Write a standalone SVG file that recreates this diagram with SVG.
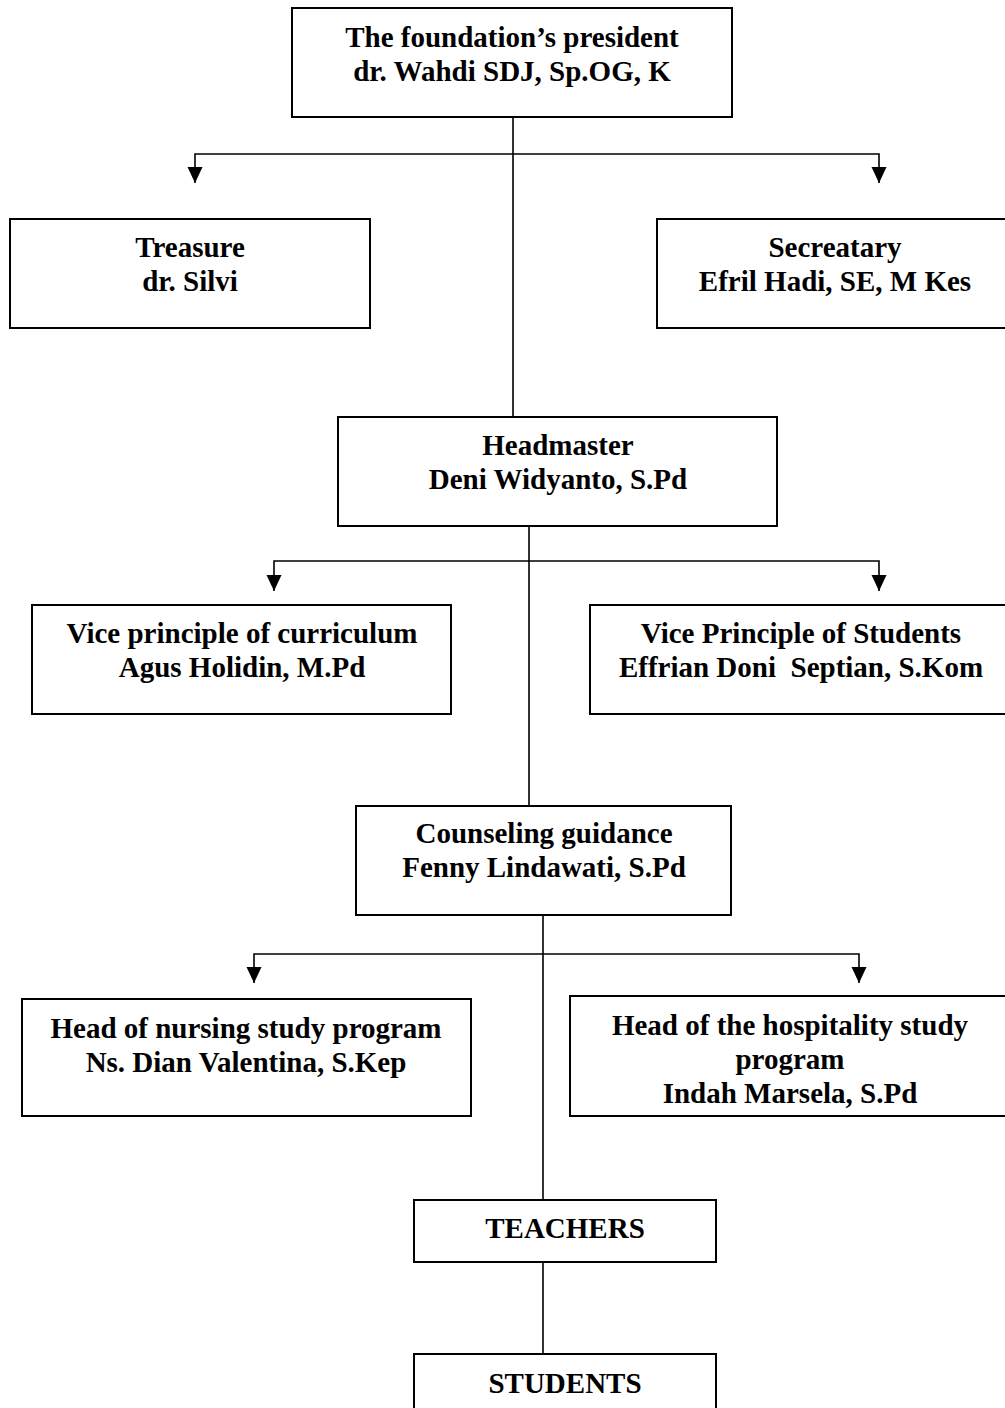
<svg xmlns="http://www.w3.org/2000/svg" width="1005" height="1408" viewBox="0 0 1005 1408">
<defs>
<style>
.box{fill:#fff;stroke:#000;stroke-width:2}
.t{font-family:"Liberation Serif","Times New Roman",serif;font-weight:bold;font-size:29px;fill:#000;text-anchor:middle}
.ln{fill:none;stroke:#000;stroke-width:1.6}
</style>
<marker id="arr" markerUnits="userSpaceOnUse" viewBox="0 0 16 16" markerWidth="16" markerHeight="16" refX="16" refY="8" orient="auto-start-reverse">
<path d="M0,0.5 L16,8 L0,15.5 Z" fill="#000"/>
</marker>
</defs>
<rect width="1005" height="1408" fill="#fff"/>
<g id="connectors">
<line class="ln" x1="513" y1="117" x2="513" y2="417"/>
<polyline class="ln" points="195,183 195,154 879,154 879,183" marker-start="url(#arr)" marker-end="url(#arr)"/>
<line class="ln" x1="529" y1="526" x2="529" y2="806"/>
<polyline class="ln" points="274,591 274,561 879,561 879,591" marker-start="url(#arr)" marker-end="url(#arr)"/>
<line class="ln" x1="543" y1="915" x2="543" y2="1200"/>
<polyline class="ln" points="254,983 254,954 859,954 859,983" marker-start="url(#arr)" marker-end="url(#arr)"/>
<line class="ln" x1="543" y1="1262" x2="543" y2="1354"/>
</g>
<g id="president">
<rect class="box" x="292" y="8" width="440" height="109"/>
<text class="t" x="512" y="47">The foundation’s president</text>
<text class="t" x="512" y="81">dr. Wahdi SDJ, Sp.OG, K</text>
</g>
<g id="treasure">
<rect class="box" x="10" y="219" width="360" height="109"/>
<text class="t" x="190" y="257">Treasure</text>
<text class="t" x="190" y="291">dr. Silvi</text>
</g>
<g id="secretary">
<rect class="box" x="657" y="219" width="360" height="109"/>
<text class="t" x="835" y="257">Secreatary</text>
<text class="t" x="835" y="291">Efril Hadi, SE, M Kes</text>
</g>
<g id="headmaster">
<rect class="box" x="338" y="417" width="439" height="109"/>
<text class="t" x="558" y="455">Headmaster</text>
<text class="t" x="558" y="489">Deni Widyanto, S.Pd</text>
</g>
<g id="vice-curriculum">
<rect class="box" x="32" y="605" width="419" height="109"/>
<text class="t" x="242" y="643">Vice principle of curriculum</text>
<text class="t" x="242" y="677">Agus Holidin, M.Pd</text>
</g>
<g id="vice-students">
<rect class="box" x="590" y="605" width="425" height="109"/>
<text class="t" x="801" y="643">Vice Principle of Students</text>
<text class="t" x="801" y="677" xml:space="preserve">Effrian Doni  Septian, S.Kom</text>
</g>
<g id="counseling">
<rect class="box" x="356" y="806" width="375" height="109"/>
<text class="t" x="544" y="843">Counseling guidance</text>
<text class="t" x="544" y="877">Fenny Lindawati, S.Pd</text>
</g>
<g id="nursing">
<rect class="box" x="22" y="999" width="449" height="117"/>
<text class="t" x="246" y="1038">Head of nursing study program</text>
<text class="t" x="246" y="1072">Ns. Dian Valentina, S.Kep</text>
</g>
<g id="hospitality">
<rect class="box" x="570" y="996" width="445" height="120"/>
<text class="t" x="790" y="1035">Head of the hospitality study</text>
<text class="t" x="790" y="1069">program</text>
<text class="t" x="790" y="1103">Indah Marsela, S.Pd</text>
</g>
<g id="teachers">
<rect class="box" x="414" y="1200" width="302" height="62"/>
<text class="t" x="565" y="1238">TEACHERS</text>
</g>
<g id="students">
<rect class="box" x="414" y="1354" width="302" height="66"/>
<text class="t" x="565" y="1393">STUDENTS</text>
</g>
</svg>
